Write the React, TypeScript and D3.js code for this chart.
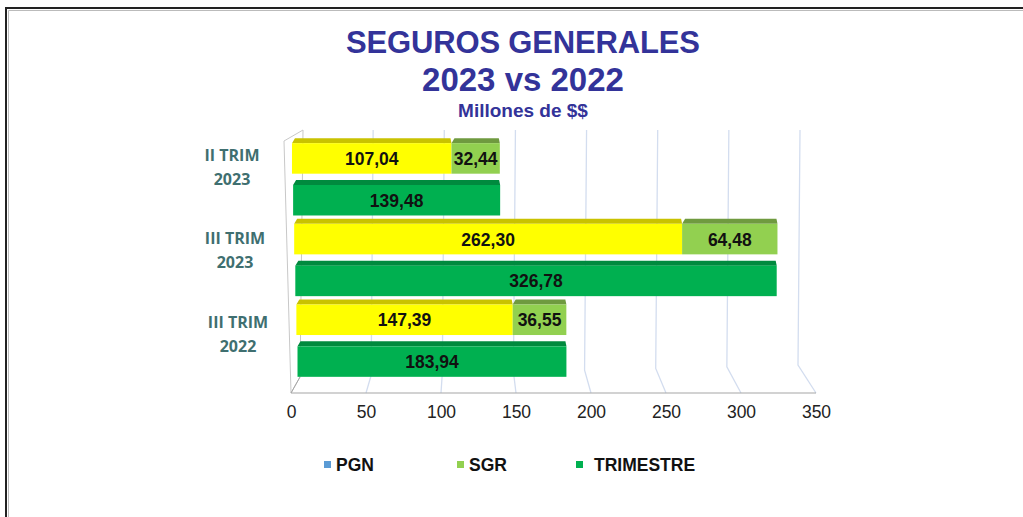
import React, { useEffect, useRef } from 'react';
import * as d3 from 'd3';

// data
const categories = ['II TRIM|2023', 'III TRIM|2023', 'III TRIM|2022'];
const pgn = [107.04, 262.3, 147.39];
const sgr = [32.44, 64.48, 36.55];
const trimestre = [139.48, 326.78, 183.94];
const xTicks = [0, 50, 100, 150, 200, 250, 300, 350];
const legendItems = ['PGN', 'SGR', 'TRIMESTRE'];

const W = 1023, H = 517;

const locale = d3.formatLocale({ decimal: ',', thousands: '.', grouping: [3], currency: ['$', ''] });
const fmt = locale.format('.2f');

export default function App() {
  const ref = useRef<SVGSVGElement | null>(null);

  useEffect(() => {
    const svg = d3.select(ref.current);
    svg.selectAll('*').remove();

    // frame
    svg.append('path').attr('d', `M6,${H} L6,8 L${W},8`).attr('fill', 'none').attr('stroke', '#222').attr('stroke-width', 2);
    svg.append('path').attr('d', `M8.5,${H} L8.5,10.5 L${W},10.5`).attr('fill', 'none').attr('stroke', '#bbb').attr('stroke-width', 1);

    // titles
    const title = svg.append('g').attr('fill', '#333399').attr('font-family', 'Liberation Sans, Arial, sans-serif')
      .attr('font-weight', 'bold').attr('text-anchor', 'middle');
    title.append('text').attr('x', 523).attr('y', 53).attr('font-size', 31).attr('textLength', 354).text('SEGUROS  GENERALES');
    title.append('text').attr('x', 523).attr('y', 91).attr('font-size', 33).text('2023 vs 2022');
    title.append('text').attr('x', 523).attr('y', 117).attr('font-size', 19).text('Millones de $$');

    // perspective floor / back wall
    const floorY = 393, topY = 130;
    const xFront = d3.scaleLinear().domain([0, 350]).range([291, 816]);
    const xBack = d3.scaleLinear().domain([0, 350]).range([300, 798]);
    const yBack = d3.scaleLinear().domain([0, 350]).range([377, 365]);

    const grid = svg.append('g').attr('fill', 'none').attr('stroke', '#d3ddef').attr('stroke-width', 1.3);
    xTicks.filter(t => t > 0).forEach(t => {
      grid.append('path').attr('d', `M${xFront(t)},${floorY} L${xBack(t)},${yBack(t)} L${xBack(t) + 2},${topY}`);
    });

    // left wall
    svg.append('path')
      .attr('d', `M${xFront(0)},${floorY} L284,141 L303,130 L${xBack(0)},${yBack(0)} Z`)
      .attr('fill', 'none').attr('stroke', '#c8c8c8').attr('stroke-width', 1);
    svg.append('line').attr('x1', xFront(0)).attr('x2', xFront(350)).attr('y1', floorY).attr('y2', floorY)
      .attr('stroke', '#a6a6a6').attr('stroke-width', 1.2);
    svg.append('line').attr('x1', xFront(0)).attr('x2', xBack(0)).attr('y1', floorY).attr('y2', yBack(0))
      .attr('stroke', '#a6a6a6');

    // x axis labels
    const axis = d3.axisBottom(xFront).tickValues(xTicks).tickSize(0).tickPadding(13).tickFormat(d3.format('d'));
    const ax = svg.append('g').attr('transform', `translate(0,${floorY})`).call(axis);
    ax.select('.domain').remove();
    ax.selectAll('text').attr('font-size', 17.5).attr('font-family', 'Liberation Sans, Arial, sans-serif').attr('fill', '#222');

    // bars
    const y = d3.scaleBand<string>().domain(categories).range([139, 381]);
    const inner = d3.scaleBand<string>().domain(['stack', 'total']).range([0, y.bandwidth()])
      .paddingInner(0.27).paddingOuter(0.1);
    const bh = inner.bandwidth();
    const x0 = d3.scaleLinear().domain([144, 346]).range([292, 297.5]);
    const k = d3.scaleLinear().domain([144, 346]).range([1.49, 1.462]);
    const labelY = d3.scaleLinear().domain([179.3, 340.7]).range([166.5, 334]);
    const depth = 5;

    const box = (g: any, top: number, a: number, b: number, fill: string, topFill: string, label: string) => {
      const xa = x0(top) + a * k(top), xb = x0(top) + b * k(top);
      g.append('path')
        .attr('d', `M${xa},${top} L${xa + 3},${top - depth} L${xb - 1},${top - depth} L${xb},${top} Z`)
        .attr('fill', topFill);
      g.append('rect').attr('x', xa).attr('y', top).attr('width', xb - xa).attr('height', bh).attr('fill', fill);
      g.append('text').attr('x', (xa + xb) / 2).attr('y', top + bh / 2 + 6.5)
        .attr('text-anchor', 'middle').attr('font-size', 17.5).attr('font-weight', 'bold')
        .attr('font-family', 'Liberation Sans, Arial, sans-serif').attr('fill', '#111').text(label);
    };

    const bars = svg.append('g');
    categories.forEach((c, i) => {
      const ts = (y(c) as number) + (inner('stack') as number);
      const tt = (y(c) as number) + (inner('total') as number);
      box(bars, ts, 0, pgn[i], '#ffff00', '#c9c200', fmt(pgn[i]));
      box(bars, ts, pgn[i], pgn[i] + sgr[i], '#92d050', '#6f9a3f', fmt(sgr[i]));
      box(bars, tt, 0, trimestre[i], '#00b050', '#008a3e', fmt(trimestre[i]));

      const [l1, l2] = c.split('|');
      const cy = labelY((y(c) as number) + y.bandwidth() / 2);
      const lab = svg.append('text').attr('text-anchor', 'middle').attr('font-size', 16).attr('font-weight', 'bold')
        .attr('font-family', 'Open Sans, Lato, sans-serif').attr('fill', '#3f6f70');
      lab.append('tspan').attr('x', 232 + i * 3).attr('y', cy - 6).text(l1);
      lab.append('tspan').attr('x', 232 + i * 3).attr('y', cy + 18).text(l2);
    });

    // legend
    const legendColors = ['#5b9bd5', '#92d050', '#00b050'];
    const legendX = [324, 457, 576];
    const lg = svg.append('g').attr('font-family', 'Liberation Sans, Arial, sans-serif').attr('font-weight', 'bold')
      .attr('font-size', 17.5).attr('fill', '#111');
    legendItems.forEach((name, i) => {
      lg.append('rect').attr('x', legendX[i]).attr('y', 461).attr('width', 7).attr('height', 7).attr('fill', legendColors[i]);
      lg.append('text').attr('x', legendX[i] + (i === 2 ? 18 : 12)).attr('y', 471).text(name);
    });
  }, []);

  return (
    <svg ref={ref} width={W} height={H} style={{ position: 'absolute', left: 0, top: 0, background: '#fff' }} />
  );
}
